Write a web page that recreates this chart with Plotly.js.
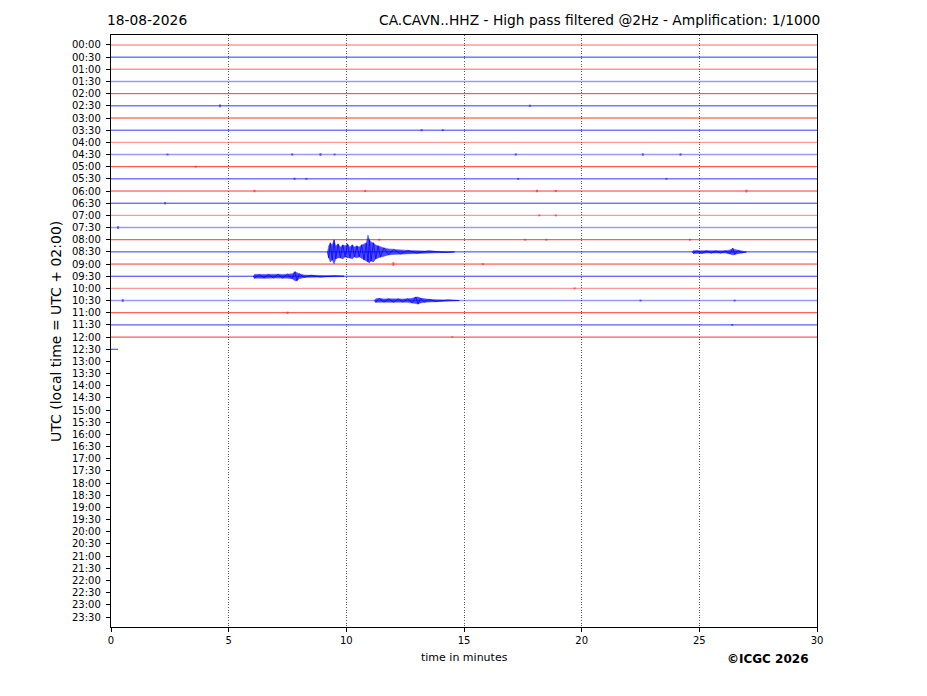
<!DOCTYPE html>
<html>
<head>
<meta charset="utf-8">
<script src="https://cdn.plot.ly/plotly-3.0.1.min.js"></script>
<style>html,body{margin:0;padding:0;background:#fff;}#chart{width:927px;height:696px;}</style>
</head>
<body>
<div id="chart"></div>
<script>
// ---- data ----
const rowLabels = ["00:00","00:30","01:00","01:30","02:00","02:30","03:00","03:30","04:00","04:30",
  "05:00","05:30","06:00","06:30","07:00","07:30","08:00","08:30","09:00","09:30",
  "10:00","10:30","11:00","11:30","12:00","12:30","13:00","13:30","14:00","14:30",
  "15:00","15:30","16:00","16:30","17:00","17:30","18:00","18:30","19:00","19:30",
  "20:00","20:30","21:00","21:30","22:00","22:30","23:00","23:30"];
// minutes of signal recorded in each row (rows 00:00 .. 12:30)
const rowMinutes = [30,30,30,30,30,30,30,30,30,30,30,30,30,30,30,30,30,30,30,30,30,30,30,30,30,0.3];
const xTicks = [0,5,10,15,20,25,30];

// event 1, row 08:30 (time in minutes, upward / downward amplitude)
const ev1Row = "08:30";
const ev1T  = [9.20,9.25,9.32,9.40,9.48,9.55,9.65,9.75,9.85,9.95,10.05,10.15,10.25,10.35,10.45,10.55,10.65,10.75,10.85,10.92,10.98,11.05,11.15,11.25,11.35,11.45,11.60,11.80,12.00,12.30,12.60,13.00,13.50,14.20,14.60];
const ev1Up = [0,6,9,7,12,6,8,5,7,6,8,5,7,5,6,5,7,8,9,17,12,10,9,7,6,5,4,3,2.5,2,1.5,1.2,1,0.6,0];
const ev1Dn = [0,6,10,8,12,7,6,6,7,5,6,6,7,5,6,5,6,8,9,10,11,9,10,7,6,5,4,3,2.5,2,1.5,1.2,1,0.6,0];

// event 2, row 08:30
const ev2Row = "08:30";
const ev2T  = [24.70,24.75,24.90,25.10,25.30,25.50,25.70,25.90,26.10,26.30,26.42,26.50,26.65,26.80,27.00];
const ev2Up = [0,1.5,1.2,1.5,1.2,1.2,1,1.2,1.2,2,3.5,2.5,1.5,1,0];
const ev2Dn = [0,1.5,1.2,1.5,1.2,1.2,1,1.2,1.2,2,3,2.5,1.5,1,0];

// event 3, row 09:30
const ev3Row = "09:30";
const ev3T  = [6.05,6.10,6.30,6.50,6.70,6.90,7.10,7.30,7.50,7.70,7.82,7.90,8.00,8.20,8.50,8.90,9.50,9.90];
const ev3Up = [0,2,1.8,2,1.8,1.8,2,1.8,2,2.5,4.5,3.5,2.5,1.2,1,0.8,0.5,0];
const ev3Dn = [0,2,1.8,1.8,2,1.8,1.8,1.8,2,2.5,4.5,4.5,2.5,1.2,1,0.8,0.5,0];

// event 4, row 10:30
const ev4Row = "10:30";
const ev4T  = [11.20,11.25,11.40,11.60,11.80,12.00,12.20,12.40,12.60,12.80,12.95,13.05,13.15,13.30,13.50,13.80,14.30,14.80];
const ev4Up = [0,1.8,2.2,1.6,1.8,1.6,1.8,1.6,1.8,2.2,3.5,3.5,2.5,1.8,1.2,0.9,0.6,0];
const ev4Dn = [0,1.8,1.8,1.6,1.8,1.6,1.8,1.6,1.8,2.2,3,3.5,2.5,1.8,1.2,0.9,0.6,0];

// small isolated wiggles
const blipRow = ["02:30","02:30","03:30","03:30","04:30","04:30","04:30","04:30","04:30","04:30","04:30",
  "05:00","05:30","05:30","05:30","05:30","06:00","06:00","06:00","06:00","06:00","06:30","07:00","07:00",
  "07:30","08:00","08:00","08:00","08:00","09:00","09:00","10:00","10:30","10:30","10:30","11:00","11:30","12:00"];
const blipT   = [4.63,17.8,13.2,14.1,2.4,7.7,8.9,9.5,17.2,22.6,24.2,
  3.6,7.8,8.3,17.3,23.6,6.1,10.8,18.1,18.9,27.0,2.3,18.2,18.9,
  0.3,11.4,17.6,18.5,24.6,12.0,15.8,19.7,0.5,22.5,26.5,7.5,26.4,14.5];
const blipAmp = [1.5,1.2,1.2,1,1,1.2,1.5,1,1.2,1.3,1.3,
  1,1.2,1,1,1,1.2,1,1.3,1,1.5,1.2,1,1,
  1.5,1,1,1,1,2,1,1,1.5,1,1,1.2,1,0.8];

// ---- styles ----
const lightRows = ["00:00","01:00","01:30","04:00","04:30","07:00","07:30","10:00","10:30"];
const PX = 1/12.17; // amplitude unit -> row spacing
const RED = "#ff0000", BLUE = "#0000ff";
const font = "DejaVu Sans, Liberation Sans, sans-serif";

function rowIdx(lbl){ return rowLabels.indexOf(lbl); }
function rowColor(i){ return i % 2 === 0 ? RED : BLUE; }

const traces = [];
rowMinutes.forEach((m, i) => {
  const light = lightRows.indexOf(rowLabels[i]) >= 0;
  traces.push({
    x: [0, m], y: [i, i], mode: "lines", hoverinfo: "skip",
    line: { color: rowColor(i), width: light ? 1.4 : 1 },
    opacity: light ? 0.4 : 0.8
  });
});

function envTraces(lbl, t, up, dn) {
  const b = rowIdx(lbl);
  const x = t.concat(t.slice().reverse());
  const y = up.map(a => b - a * PX).concat(dn.map(a => b + a * PX).reverse());
  const fillT = { x, y, mode: "lines", fill: "toself", fillcolor: rowColor(b),
    line: { color: rowColor(b), width: 0.5 }, opacity: 0.7, hoverinfo: "skip" };
  // spiky outline: alternate between upper and lower envelope
  const zx = [], zy = [];
  t.forEach((tt, i) => { zx.push(tt); zy.push(i % 2 ? b + dn[i] * PX : b - up[i] * PX); });
  const zig = { x: zx, y: zy, mode: "lines", line: { color: rowColor(b), width: 0.8 },
    opacity: 0.9, hoverinfo: "skip" };
  return [fillT, zig];
}
traces.push(...envTraces(ev1Row, ev1T, ev1Up, ev1Dn));
traces.push(...envTraces(ev2Row, ev2T, ev2Up, ev2Dn));
traces.push(...envTraces(ev3Row, ev3T, ev3Up, ev3Dn));
traces.push(...envTraces(ev4Row, ev4T, ev4Up, ev4Dn));

// blips grouped by colour
[RED, BLUE].forEach(col => {
  const x = [], y = [];
  blipRow.forEach((lbl, k) => {
    const b = rowIdx(lbl);
    if (rowColor(b) !== col) return;
    const a = blipAmp[k] * PX;
    x.push(blipT[k], blipT[k], null);
    y.push(b - a, b + a, null);
  });
  traces.push({ x, y, mode: "lines", line: { color: col, width: 2 }, opacity: 0.5, hoverinfo: "skip" });
});

const layout = {
  width: 927, height: 696,
  margin: { l: 111, r: 110, t: 35, b: 69, pad: 0 },
  paper_bgcolor: "#fff", plot_bgcolor: "#fff",
  showlegend: false,
  font: { family: font, color: "#000", size: 10 },
  xaxis: {
    range: [0, 30], tickvals: xTicks, ticktext: xTicks.map(String),
    ticks: "outside", ticklen: 4, tickwidth: 1, tickcolor: "#000",
    showgrid: true, gridcolor: "#333", griddash: "1px,1.6px", gridwidth: 0.8,
    zeroline: false, showline: true, mirror: true, linecolor: "#000", linewidth: 1.2,
    tickfont: { size: 10, family: font }
  },
  yaxis: {
    range: [47.82, -0.82], tickvals: rowLabels.map((_, i) => i), ticktext: rowLabels,
    ticks: "outside", ticklen: 4, tickwidth: 1, tickcolor: "#000", ticklabelstandoff: 3,
    showgrid: false, zeroline: false, showline: true, mirror: true, linecolor: "#000", linewidth: 1.2,
    tickfont: { size: 10, family: font }
  },
  annotations: [
    { text: "18-08-2026", xref: "paper", yref: "paper", x: -0.008, y: 1.0254,
      xanchor: "left", yanchor: "middle", showarrow: false, font: { size: 13.8, family: font } },
    { text: "CA.CAVN..HHZ - High pass filtered @2Hz - Amplification: 1/1000", xref: "paper", yref: "paper",
      x: 1.0071, y: 1.0254, xanchor: "right", yanchor: "middle", showarrow: false, font: { size: 13.8, family: font } },
    { text: "time in minutes", xref: "paper", yref: "paper", x: 0.5, y: -0.0507,
      xanchor: "center", yanchor: "middle", showarrow: false, font: { size: 11, family: font } },
    { text: "UTC (local time = UTC + 02:00)", xref: "paper", yref: "paper", x: -0.078, y: 0.5,
      xanchor: "center", yanchor: "middle", textangle: -90, showarrow: false, font: { size: 14, family: font } },
    { text: "<b>©ICGC 2026</b>", xref: "paper", yref: "paper", x: 0.9915, y: -0.054,
      xanchor: "right", yanchor: "middle", showarrow: false, font: { size: 12, family: "DejaVu Sans, sans-serif" } }
  ]
};

Plotly.newPlot("chart", traces, layout, { staticPlot: true, displayModeBar: false });
</script>
</body>
</html>
